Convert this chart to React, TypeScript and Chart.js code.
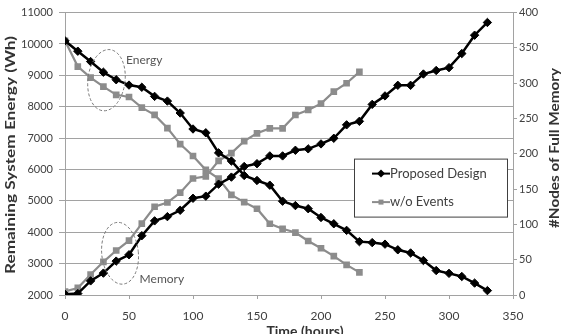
import React, { useEffect, useRef } from 'react';
import { Chart, registerables } from 'chart.js';

Chart.register(...registerables);

// ---------- data ----------
const hoursProposed = [0, 10, 20, 30, 40, 50, 60, 70, 80, 90, 100, 110, 120, 130, 140, 150, 160, 170, 180, 190, 200, 210, 220, 230, 240, 250, 260, 270, 280, 290, 300, 310, 320, 330];
const hoursNoEvents = [0, 10, 20, 30, 40, 50, 60, 70, 80, 90, 100, 110, 120, 130, 140, 150, 160, 170, 180, 190, 200, 210, 220, 230];

const energyProposed = [10100, 9770, 9440, 9100, 8860, 8690, 8620, 8330, 8180, 7800, 7290, 7170, 6530, 6270, 5810, 5650, 5500, 4990, 4850, 4750, 4470, 4270, 4060, 3700, 3670, 3620, 3440, 3340, 3100, 2780, 2690, 2590, 2380, 2140];
const memoryProposed = [1, 2, 20, 31, 48, 57, 84, 105, 111, 120, 137, 140, 157, 167, 182, 186, 197, 197, 205, 207, 214, 222, 241, 246, 270, 282, 297, 297, 313, 318, 322, 342, 368, 386];

const energyNoEvents = [10100, 9280, 8930, 8640, 8380, 8310, 7970, 7740, 7320, 6810, 6430, 5990, 5710, 5190, 4960, 4750, 4270, 4110, 3990, 3720, 3490, 3240, 2960, 2720];
const memoryNoEvents = [5, 10, 29, 47, 63, 77, 101, 125, 131, 145, 165, 168, 190, 201, 218, 229, 236, 236, 255, 262, 271, 288, 300, 316];

const seriesNames = ['Proposed Design', 'w/o Events'];
const xTitle = 'Time (hours)';
const yTitle = 'Remaining System Energy (Wh)';
const y1Title = '#Nodes of Full Memory';
const noteLabels = ['Energy', 'Memory'];

const BLACK = '#000000';
const GRAY = '#8c8c8c';
const GRID = '#a2a2a2';
const TICK_TEXT = '#404040';

const pairs = (xs: number[], ys: number[]) => xs.map((x, i) => ({ x, y: ys[i] }));

// annotation ellipses in data units (hours / Wh)
const notes = [
  { label: noteLabels[0], hour: 32.4, wh: 8846, rh: 14.5, rwh: 980, rot: 0.12, textHour: 47.7, textWh: 9350 },
  { label: noteLabels[1], hour: 43, wh: 3330, rh: 14.3, rwh: 988, rot: -0.1, textHour: 58.3, textWh: 2390 },
];

const overlayPlugin = {
  id: 'overlay',
  afterDraw(chart: any) {
    const { ctx, chartArea, scales } = chart;
    const xs = scales.x;
    const ys = scales.y;
    ctx.save();

    // dashed ellipses + labels
    for (const n of notes) {
      const cx = xs.getPixelForValue(n.hour);
      const cy = ys.getPixelForValue(n.wh);
      const rx = xs.getPixelForValue(n.hour + n.rh) - cx;
      const ry = cy - ys.getPixelForValue(n.wh + n.rwh);
      ctx.beginPath();
      ctx.setLineDash([3, 2]);
      ctx.strokeStyle = '#7a7a7a';
      ctx.lineWidth = 1;
      ctx.ellipse(cx, cy, rx, ry, n.rot, 0, Math.PI * 2);
      ctx.stroke();
      ctx.setLineDash([]);
      ctx.fillStyle = '#555555';
      ctx.font = '12px Lato';
      ctx.textAlign = 'left';
      ctx.textBaseline = 'alphabetic';
      ctx.fillText(n.label, xs.getPixelForValue(n.textHour), ys.getPixelForValue(n.textWh));
    }

    // legend box
    const bx = chartArea.right - 159;
    const by = chartArea.top + 146;
    const bw = 153;
    const bh = 58;
    ctx.fillStyle = '#ffffff';
    ctx.fillRect(bx, by, bw, bh);
    ctx.strokeStyle = '#404040';
    ctx.lineWidth = 1;
    ctx.strokeRect(bx + 0.5, by + 0.5, bw, bh);
    const rows = [
      { name: seriesNames[0], color: BLACK, style: 'diamond', yy: by + 15 },
      { name: seriesNames[1], color: GRAY, style: 'square', yy: by + 43.5 },
    ];
    for (const r of rows) {
      ctx.strokeStyle = r.color;
      ctx.fillStyle = r.color;
      ctx.lineWidth = 2;
      ctx.beginPath();
      ctx.moveTo(bx + 18, r.yy);
      ctx.lineTo(bx + 36, r.yy);
      ctx.stroke();
      const mx = bx + 27;
      ctx.beginPath();
      if (r.style === 'diamond') {
        ctx.moveTo(mx, r.yy - 4);
        ctx.lineTo(mx + 4, r.yy);
        ctx.lineTo(mx, r.yy + 4);
        ctx.lineTo(mx - 4, r.yy);
        ctx.closePath();
      } else {
        ctx.rect(mx - 2.5, r.yy - 2.5, 5, 5);
      }
      ctx.fill();
      ctx.fillStyle = '#404040';
      ctx.font = '13px Lato';
      ctx.textAlign = 'left';
      ctx.textBaseline = 'middle';
      ctx.fillText(r.name, bx + 36, r.yy);
    }

    // axis titles
    ctx.fillStyle = '#333333';
    ctx.font = 'bold 14px Lato';
    ctx.textAlign = 'center';
    ctx.textBaseline = 'middle';

    const drawRotated = (text: string, x: number, y: number, targetLen: number) => {
      ctx.save();
      ctx.translate(x, y);
      ctx.rotate(-Math.PI / 2);
      const w = ctx.measureText(text).width;
      ctx.scale(targetLen / w, 1);
      ctx.fillText(text, 0, 0);
      ctx.restore();
    };
    drawRotated(yTitle, 10, 155, 238);
    drawRotated(y1Title, 554, 148, 160);

    ctx.textBaseline = 'top';
    ctx.fillText(xTitle, (chartArea.left + chartArea.right) / 2 + 16, 324);

    ctx.restore();
  },
};

export default function App() {
  const ref = useRef<HTMLCanvasElement | null>(null);

  useEffect(() => {
    document.body.style.margin = '0';
    const canvas = ref.current;
    if (!canvas) return;
    const chart = new Chart(canvas, {
      type: 'line',
      data: {
        datasets: [
          {
            label: seriesNames[0],
            data: pairs(hoursProposed, energyProposed),
            yAxisID: 'y',
            borderColor: BLACK,
            backgroundColor: BLACK,
            borderWidth: 2.5,
            pointStyle: 'rectRot',
            pointRadius: 4.2,
            pointBorderWidth: 1,
            tension: 0,
          },
          {
            label: seriesNames[0] + ' (memory)',
            data: pairs(hoursProposed, memoryProposed),
            yAxisID: 'y1',
            borderColor: BLACK,
            backgroundColor: BLACK,
            borderWidth: 2.5,
            pointStyle: 'rectRot',
            pointRadius: 4.2,
            pointBorderWidth: 1,
            tension: 0,
          },
          {
            label: seriesNames[1],
            data: pairs(hoursNoEvents, energyNoEvents),
            yAxisID: 'y',
            borderColor: GRAY,
            backgroundColor: GRAY,
            borderWidth: 2.2,
            pointStyle: 'rect',
            pointRadius: 4.7,
            pointBorderWidth: 0,
            tension: 0,
          },
          {
            label: seriesNames[1] + ' (memory)',
            data: pairs(hoursNoEvents, memoryNoEvents),
            yAxisID: 'y1',
            borderColor: GRAY,
            backgroundColor: GRAY,
            borderWidth: 2.2,
            pointStyle: 'rect',
            pointRadius: 4.7,
            pointBorderWidth: 0,
            tension: 0,
          },
        ],
      },
      options: {
        responsive: false,
        animation: false,
        devicePixelRatio: 1,
        layout: { padding: { top: 4, left: 0, right: 0, bottom: 0 } },
        plugins: {
          legend: { display: false },
          tooltip: { enabled: false },
        },
        scales: {
          x: {
            type: 'linear',
            min: 0,
            max: 350,
            afterFit: (s: any) => { s.height = 39; },
            ticks: {
              stepSize: 50,
              padding: 10,
              color: TICK_TEXT,
              font: { family: 'Lato', size: 12 },
              callback: (v: any) => String(v),
              maxRotation: 0,
            },
            grid: { drawOnChartArea: false, drawTicks: true, tickLength: 4, color: GRID },
            border: { display: true, color: GRID, width: 1 },
          },
          y: {
            type: 'linear',
            position: 'left',
            min: 2000,
            max: 11000,
            afterFit: (s: any) => { s.width = 65; },
            ticks: {
              stepSize: 1000,
              padding: 6,
              color: TICK_TEXT,
              font: { family: 'Lato', size: 11 },
              callback: (v: any) => String(v),
            },
            grid: { color: GRID, drawTicks: true, tickLength: 6, lineWidth: 1 },
            border: { display: true, color: GRID, width: 1 },
          },
          y1: {
            type: 'linear',
            position: 'right',
            min: 0,
            max: 400,
            afterFit: (s: any) => { s.width = 53; },
            ticks: {
              stepSize: 50,
              padding: 2,
              color: TICK_TEXT,
              font: { family: 'Lato', size: 11 },
              callback: (v: any) => String(v),
            },
            grid: { drawOnChartArea: false, drawTicks: true, tickLength: 4, color: GRID },
            border: { display: true, color: GRID, width: 1 },
          },
        },
      },
      plugins: [overlayPlugin],
    } as any);
    return () => chart.destroy();
  }, []);

  return (
    <div style={{ position: 'absolute', left: 0, top: 0, width: 566, height: 334, background: '#fff' }}>
      <canvas ref={ref} width={566} height={334} style={{ display: 'block', width: 566, height: 334 }} />
    </div>
  );
}
